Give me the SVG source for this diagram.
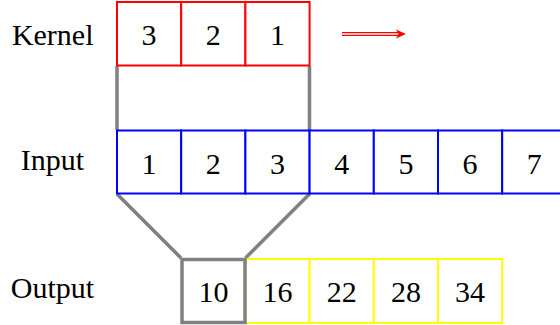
<svg xmlns="http://www.w3.org/2000/svg" width="560" height="325" viewBox="0 0 560 325">
<style>
text{font-family:'Liberation Serif',serif;font-size:30px;fill:#000;text-anchor:middle}
.k{fill:#fff;stroke:#ff0000;stroke-width:2}
.i{fill:#fff;stroke:#0000ff;stroke-width:2}
.o{fill:#fff;stroke:#ffff00;stroke-width:2}
.g{fill:none;stroke:#808080;stroke-width:3.5}
</style>
<rect width="560" height="325" fill="#fff"/>
<g id="labels">
<text x="52.7" y="44.5">Kernel</text>
<text x="52.5" y="170">Input</text>
<text x="52.5" y="298">Output</text>
</g>
<g id="connectors">
<line class="g" x1="117" y1="66" x2="117" y2="130"/>
<line class="g" x1="309.5" y1="66" x2="309.5" y2="130"/>
<line class="g" x1="117" y1="194" x2="181" y2="258"/>
<line class="g" x1="309.5" y1="194" x2="245.5" y2="258"/>
<g id="arrow">
<line x1="342" y1="34" x2="398" y2="34" stroke="#ff0000" stroke-width="4"/>
<line x1="342" y1="34" x2="398" y2="34" stroke="#fff" stroke-width="1.4"/>
<path d="M396 29.5 L406 34 L396 38.5 L398.5 34 Z" fill="#ff0000"/>
</g>
</g>
<g id="kernel">
<rect class="k" x="117" y="2" width="64.2" height="63.5"/>
<rect class="k" x="181.2" y="2" width="64.2" height="63.5"/>
<rect class="k" x="245.4" y="2" width="64.2" height="63.5"/>
<text x="149" y="45">3</text>
<text x="213.3" y="45">2</text>
<text x="277.5" y="45">1</text>
</g>
<g id="input">
<rect class="i" x="117" y="130.5" width="64.2" height="63"/>
<rect class="i" x="181.2" y="130.5" width="64.2" height="63"/>
<rect class="i" x="245.4" y="130.5" width="64.2" height="63"/>
<rect class="i" x="309.6" y="130.5" width="64.2" height="63"/>
<rect class="i" x="373.8" y="130.5" width="64.2" height="63"/>
<rect class="i" x="438" y="130.5" width="64.2" height="63"/>
<rect class="i" x="502.2" y="130.5" width="64.2" height="63"/>
<text x="149" y="173.5">1</text>
<text x="213.3" y="173.5">2</text>
<text x="277.5" y="173.5">3</text>
<text x="341.7" y="173.5">4</text>
<text x="405.9" y="173.5">5</text>
<text x="470.1" y="173.5">6</text>
<text x="534.3" y="173.5">7</text>
</g>
<g id="output">
<rect class="o" x="245.4" y="259" width="64.2" height="64"/>
<rect class="o" x="309.6" y="259" width="64.2" height="64"/>
<rect class="o" x="373.8" y="259" width="64.2" height="64"/>
<rect class="o" x="438" y="259" width="64.2" height="64"/>
<rect class="g" x="182" y="259.5" width="63" height="63"/>
<text x="213.5" y="301.5">10</text>
<text x="277.5" y="301.5">16</text>
<text x="341.7" y="301.5">22</text>
<text x="405.9" y="301.5">28</text>
<text x="470.1" y="301.5">34</text>
</g>
</svg>
